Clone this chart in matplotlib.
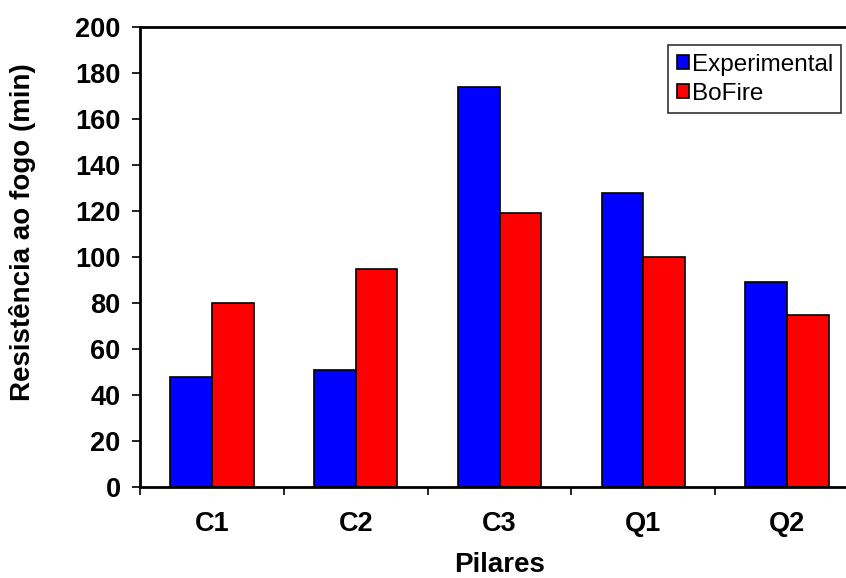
import matplotlib
matplotlib.use("Agg")
import matplotlib.pyplot as plt
import numpy as np

categories = ["C1", "C2", "C3", "Q1", "Q2"]
experimental = [48, 51, 174, 128, 89]
bofire = [80, 95, 119, 100, 75]
yticks = [0, 20, 40, 60, 80, 100, 120, 140, 160, 180, 200]

plt.rcParams['font.family'] = ['Liberation Sans', 'DejaVu Sans']

W, H = 846, 578
fig = plt.figure(figsize=(W / 100, H / 100), dpi=100)
left, right, bottom, top = 140, 859, 487, 27
ax = fig.add_axes([left / W, 1 - bottom / H, (right - left) / W, (bottom - top) / H])

x = np.arange(len(categories))
bw = 0.29
ax.bar(x - bw / 2, experimental, bw, color="#0000FF", edgecolor="black", linewidth=1.2, label="Experimental")
ax.bar(x + bw / 2, bofire, bw, color="#FF0000", edgecolor="black", linewidth=1.2, label="BoFire")

ax.set_xlim(-0.5, len(categories) - 0.5)
ax.set_ylim(0, 200)
ax.set_yticks(yticks)
ax.set_yticklabels([str(v) for v in yticks], fontsize=19.5, fontweight="bold")
ax.set_xticks(np.arange(len(categories) + 1) - 0.5, minor=False)
ax.set_xticklabels([""] * (len(categories) + 1))
ax.set_xticks(x, minor=True)
ax.set_xticklabels(categories, minor=True, fontsize=19.5, fontweight="bold")
ax.tick_params(axis="x", which="minor", length=0, pad=17)
ax.tick_params(axis="x", which="major", length=6, width=1.2, direction="out")
ax.tick_params(axis="y", length=6, width=1.2, direction="out", pad=8)

for s in ["left", "bottom", "top"]:
    ax.spines[s].set_linewidth(2)
ax.spines["right"].set_visible(False)

ax.set_ylabel("Resistência ao fogo (min)", fontsize=20, fontweight="bold", labelpad=28)
ax.yaxis.label.set_y(0.554)
ax.set_xlabel("Pilares", fontsize=20, fontweight="bold", labelpad=11)

leg = ax.legend(loc="upper left", bbox_to_anchor=(668 / W, 1 - 45 / H), bbox_transform=fig.transFigure,
                fontsize=17.5, frameon=True, fancybox=False, edgecolor="black",
                handlelength=0.5, handleheight=0.5, handletextpad=0.12, borderpad=0.35,
                labelspacing=0.3, borderaxespad=0)
leg.get_frame().set_linewidth(1.2)

fig.savefig("out.png", dpi=100)
